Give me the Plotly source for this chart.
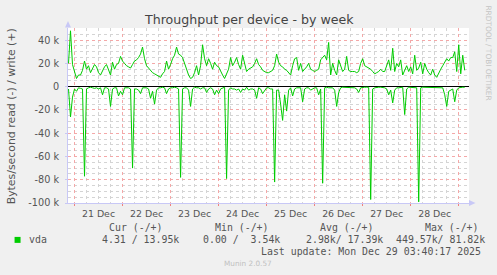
import pandas as pd
import plotly.graph_objects as go

# ---------------- data (k bytes/second), hourly from 20 Dec 21:00 ----------------
start_time = "2025-12-20 21:00"

write_k = [
    20, 48, 19, 12, 7, 10, 10, 14, 22, 15, 18, 12, 15, 19, 17, 12, 10, 14, 17, 19,
    14, 10, 21, 15, 19, 20, 26, 22, 20, 18, 17, 16, 19, 22, 23, 25, 28, 34, 24, 18,
    16, 14, 12, 11, 10, 9, 8, 11, 13, 22, 15, 19, 24, 27, 34, 28, 27, 25, 20, 14,
    10, 7, 8, 12, 18, 10, 18, 36, 24, 18, 24, 20, 15, 21, 18, 17, 13, 10, 7, 11,
    15, 25, 18, 21, 25, 19, 15, 27, 19, 13, 15, 16, 17, 20, 24, 19, 17, 14, 13, 12,
    12, 13, 14, 18, 28, 21, 18, 17, 15, 14, 12, 10, 18, 24, 25, 14, 20, 13, 15, 17,
    20, 15, 14, 13, 14, 15, 23, 25, 27, 23, 38, 10, 20, 14, 10, 23, 17, 13, 15, 26,
    14, 13, 13, 13, 12, 13, 20, 24, 18, 17, 16, 15, 13, 11, 12, 13, 15, 13, 13, 18,
    23, 14, 33, 13, 20, 17, 23, 10, 14, 18, 13, 17, 11, 27, 14, 16, 21, 11, 20, 15,
    12, 10, 15, 10, 8, 12, 15, 18, 21, 24, 22, 25, 25, 30, 13, 36, 11, 27, 14,
]

read_k = [
    2, 26, 9, 2, 4, 1, 1.5, 2, 77, 2, 1, 0.5, 1, 1.5, 1, 2, 1, 7, 1, 1,
    2, 17, 2, 1, 1, 8, 4, 7, 1, 1, 1, 2, 70, 2, 2, 3, 6, 1, 1, 1,
    2, 10, 4, 15, 3, 1, 1, 0.5, 1, 6, 2, 1, 1, 0.5, 1, 2, 78, 2, 1, 1,
    3, 17, 2, 0.5, 1, 1, 2, 1, 1, 5, 2, 1, 2, 7, 3, 6, 2, 1, 0.5, 79,
    3, 1, 2, 2, 3, 2, 5, 2, 3, 0.5, 3, 2, 2, 3, 10, 1, 2, 6, 3, 1,
    1, 2, 2, 82, 3, 3, 15, 29, 7, 21, 3, 1, 8, 2, 1, 1, 1, 13, 2, 1,
    1, 3, 2, 1, 1, 7, 2, 83, 1, 0.5, 1, 1, 1, 3, 17, 5, 1, 0.5, 0.5, 0.5,
    0.5, 1, 1, 1, 2, 5, 1, 0.5, 0.5, 0.5, 0.5, 97, 2, 1, 0.5, 0.5, 0.5, 0.5, 1, 2,
    7, 3, 14, 3, 1, 1, 0.5, 0.5, 24, 2, 0.5, 0.5, 0.5, 0.5, 1, 99, 1, 0.5, 0.5, 1,
    0.5, 0.5, 0.5, 0.5, 0.5, 0.5, 0.5, 1, 7, 17, 4, 3, 2, 13, 3, 1, 0.5, 0.5, 0.5,
]

y_tick_vals = [40, 20, 0, -20, -40, -60, -80, -100]
y_tick_text = ["40 k", "20 k", "0", "-20 k", "-40 k", "-60 k", "-80 k", "-100 k"]

series_name = "vda"
stat_headers = ["Cur (-/+)", "Min (-/+)", "Avg (-/+)", "Max (-/+)"]
stat_values = ["4.31 / 13.95k", "0.00 /  3.54k", "2.98k/ 17.39k", "449.57k/ 81.82k"]
last_update = "Last update: Mon Dec 29 03:40:17 2025"

x_range = ["2025-12-20 20:45", "2025-12-29 05:08"]
y_range = [-100, 50.4]

# ---------------- figure ----------------
W, H = 497, 275
L, R, T, B = 67.5, 469.0, 27.5, 203.0
GREEN = "#00CC00"

t_write = pd.date_range(start_time, periods=len(write_k), freq="h")
t_read = pd.date_range(start_time, periods=len(read_k), freq="h")

fig = go.Figure()
fig.add_trace(go.Scatter(x=t_write, y=write_k, mode="lines",
                         line=dict(color=GREEN, width=1), showlegend=False))
fig.add_trace(go.Scatter(x=t_read, y=[-v for v in read_k], mode="lines",
                         line=dict(color=GREEN, width=1), showlegend=False))


def px(x):
    return (x - L) / (R - L)


def py(y):
    return (B - y) / (B - T)


SANS = "DejaVu Sans"
MONO = "DejaVu Sans Mono"
TXT = "#555555"

ann = []
ann.append(dict(x=px(248.3), y=py(19.3), text="Throughput per device - by week",
                font=dict(family=SANS, size=12.6, color="#444444")))
ann.append(dict(x=px(11), y=py(116.5), text="Bytes/second read (-) / write (+)",
                textangle=-90, font=dict(family=SANS, size=10.9, color=TXT)))
ann.append(dict(x=px(489), y=py(53), text="RRDTOOL / TOBI OETIKER", textangle=90,
                font=dict(family=SANS, size=7.4, color="#c4c4c4")))
ann.append(dict(x=px(26.7), y=py(240), text=series_name, xanchor="left",
                font=dict(family=MONO, size=9.9, color=TXT)))
hdr_left = [107, 212.7, 318, 422.7]
val_left = [99.3, 201, 304, 394]
for hx, htxt in zip(hdr_left, stat_headers):
    ann.append(dict(x=px(hx), y=py(227.3), text=htxt.replace(" ", "&nbsp;"), xanchor="left",
                    font=dict(family=MONO, size=9.9, color=TXT)))
for vx, vtxt in zip(val_left, stat_values):
    ann.append(dict(x=px(vx), y=py(240), text=vtxt.replace(" ", "&nbsp;"), xanchor="left",
                    font=dict(family=MONO, size=9.9, color=TXT)))
ann.append(dict(x=px(482.7), y=py(251.7), text=last_update.replace(" ", "&nbsp;"), xanchor="right",
                font=dict(family=MONO, size=9.9, color=TXT)))
ann.append(dict(x=px(247.5), y=py(263.3), text="Munin 2.0.57",
                font=dict(family=SANS, size=7.3, color="#c0c0c0")))
for a in ann:
    a.update(xref="paper", yref="paper", showarrow=False)
    a.setdefault("xanchor", "center")
    a.setdefault("yanchor", "middle")

AX = "#c8c8f6"
shapes = [
    # legend colour box
    dict(type="rect", xref="paper", yref="paper", x0=px(14), x1=px(20), y0=py(243), y1=py(237),
         fillcolor=GREEN, line=dict(width=0)),
    # axis arrows
    dict(type="path", xref="paper", yref="paper",
         path=f"M {px(64.5)} {py(27)} L {px(70.5)} {py(27)} L {px(67.5)} {py(20.5)} Z",
         fillcolor=AX, line=dict(width=0)),
    dict(type="path", xref="paper", yref="paper",
         path=f"M {px(469)} {py(200)} L {px(469)} {py(206)} L {px(475.5)} {py(203)} Z",
         fillcolor=AX, line=dict(width=0)),
]

fig.update_layout(
    width=W, height=H,
    margin=dict(l=L, r=W - R, t=T, b=H - B, pad=0),
    paper_bgcolor="#F0F0F0", plot_bgcolor="#FFFFFF",
    annotations=ann, shapes=shapes,
    showlegend=False,
    font=dict(family=SANS, color=TXT),
)
fig.update_xaxes(
    type="date", range=x_range, dtick=86400000, tick0="2025-12-21",
    ticklabelmode="period", tickformat="%d %b",
    tickfont=dict(family=SANS, size=9.4, color=TXT),
    showgrid=True, gridcolor="#f4a8a8", griddash="dot", gridwidth=1,
    ticks="outside", ticklen=2, tickcolor="#f08080",
    minor=dict(dtick=6 * 3600000, showgrid=True, gridcolor="#d4d4d4", griddash="dot",
               gridwidth=1, ticks=""),
    showline=True, linecolor=AX, linewidth=1, zeroline=False,
)
fig.update_yaxes(
    range=y_range, tickmode="array", tickvals=y_tick_vals, ticktext=y_tick_text,
    tickfont=dict(family=SANS, size=9.7, color=TXT),
    showgrid=True, gridcolor="#f4a8a8", griddash="dot", gridwidth=1,
    ticks="outside", ticklen=2, tickcolor="#c8c8f6",
    minor=dict(tickmode="linear", tick0=0, dtick=5, showgrid=True, gridcolor="#d4d4d4",
               griddash="dot", gridwidth=1, ticks=""),
    showline=True, linecolor=AX, linewidth=1,
    zeroline=True, zerolinecolor="#000000", zerolinewidth=1,
    ticklabelstandoff=4,
)

fig.write_html("out.html")
